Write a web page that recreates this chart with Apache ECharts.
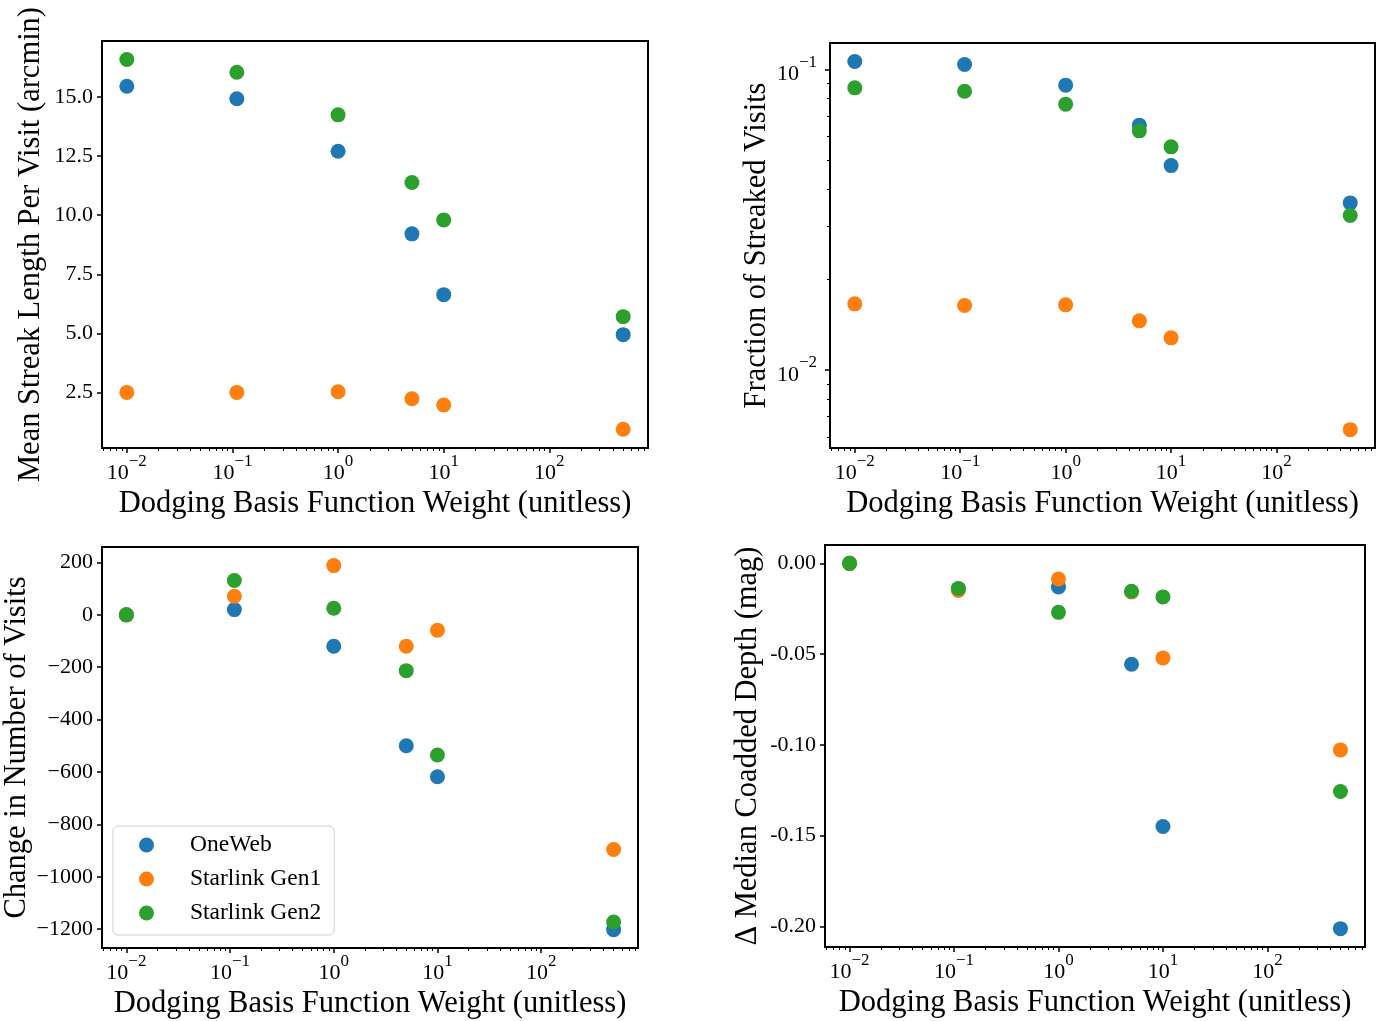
<!DOCTYPE html>
<html><head><meta charset="utf-8">
<script src="https://cdn.jsdelivr.net/npm/echarts@6/dist/echarts.min.js"></script>
<style>html,body{margin:0;padding:0;background:#fff}#c{width:1381px;height:1021px}</style>
</head><body><div id="c"></div>
<script>
// ---- data ----
const weights = [0.01, 0.11, 1, 5, 10, 500];
const constellations = ['OneWeb', 'Starlink Gen1', 'Starlink Gen2'];

const streakOneWeb = [15.45, 14.92, 12.70, 9.21, 6.64, 4.95];
const streakGen1   = [2.51, 2.51, 2.54, 2.24, 1.98, 0.95];
const streakGen2   = [16.58, 16.04, 14.24, 11.38, 9.80, 5.71];

const fracOneWeb = [0.1063, 0.1039, 0.0887, 0.0653, 0.0479, 0.0360];
const fracGen1   = [0.01662, 0.01641, 0.01649, 0.01459, 0.01281, 0.00634];
const fracGen2   = [0.0869, 0.0847, 0.0767, 0.0625, 0.0553, 0.0327];

const visitsOneWeb = [0, 20, -120, -500, -618, -1202];
const visitsGen1   = [0, 71, 188, -120, -59, -896];
const visitsGen2   = [0, 131, 25, -213, -535, -1173];

const depthOneWeb = [0, -0.0141, -0.0130, -0.0556, -0.1450, -0.2013];
const depthGen1   = [0, -0.0150, -0.0086, -0.0158, -0.0521, -0.1028];
const depthGen2   = [0, -0.0139, -0.0270, -0.0154, -0.0185, -0.1257];

const xMajorTicks = [0.01, 0.1, 1, 10, 100];
const streakTicks = [2.5, 5, 7.5, 10, 12.5, 15];
const fracMajorTicks = [0.01, 0.1];
const visitsTicks = [-1200, -1000, -800, -600, -400, -200, 0, 200];
const depthTicks = [-0.2, -0.15, -0.1, -0.05, 0];

const xTitle = 'Dodging Basis Function Weight (unitless)';
const yTitles = ['Mean Streak Length Per Visit (arcmin)', 'Fraction of Streaked Visits',
                 'Change in Number of Visits', '\u0394 Median Coadded Depth (mag)'];

// ---- styling ----
const FONT = '"Liberation Serif", "Times New Roman", serif';
const colors = ['#1f77b4', '#ff7f0e', '#2ca02c'];
const X_MIN = 0.00582, X_MAX = 859;
const TITLE_SIZE = 30.5, TICK_SIZE = 22;

function minorLog(lo, hi) {
  const out = [];
  for (let e = -4; e <= 3; e++) {
    for (let m = 2; m <= 9; m++) {
      const v = Number((m * Math.pow(10, e)).toPrecision(3));
      if (v >= lo && v <= hi) out.push(v);
    }
  }
  return out;
}
const xMinorTicks = minorLog(X_MIN, X_MAX);

function powLabel(v) {
  const e = Math.round(Math.log10(v));
  return '{b|10}{s|' + (e < 0 ? '\u2212' + (-e) : String(e)) + '}';
}
const powRich = {
  b: {fontFamily: FONT, fontSize: TICK_SIZE, color: '#000', lineHeight: 31.5, verticalAlign: 'bottom'},
  s: {fontFamily: FONT, fontSize: 17, color: '#000', lineHeight: 17, verticalAlign: 'top'}
};

const grids = [
  {left: 102, top: 41, width: 546, height: 407},
  {left: 830, top: 43, width: 545, height: 405},
  {left: 102, top: 547, width: 536, height: 401},
  {left: 825, top: 545, width: 540, height: 402}
];
const yRanges = [[0.16, 17.36], [0.00551, 0.1225], [-1272, 259], [-0.2114, 0.0101]];
const yNameGaps = [56, 58, 66, 62];
const panels = [
  [streakOneWeb, streakGen1, streakGen2],
  [fracOneWeb, fracGen1, fracGen2],
  [visitsOneWeb, visitsGen1, visitsGen2],
  [depthOneWeb, depthGen1, depthGen2]
];

const majorTick = {show: true, length: 5, lineStyle: {color: '#000', width: 1.5}};
const minorTickStyle = {show: true, length: 3, lineStyle: {color: '#000', width: 1}};

const xAxis = [], yAxis = [], series = [];
grids.forEach((g, i) => {
  xAxis.push({
    gridIndex: i, type: 'log', min: X_MIN, max: X_MAX, position: 'bottom',
    name: xTitle, nameLocation: 'middle', nameGap: 40,
    nameTextStyle: {fontFamily: FONT, fontSize: TITLE_SIZE, color: '#000'},
    axisLine: {show: false, onZero: false},
    axisTick: Object.assign({customValues: xMajorTicks}, majorTick),
    axisLabel: {customValues: xMajorTicks, formatter: powLabel, rich: powRich, margin: 5, color: '#000'},
    splitLine: {show: false}
  });
  xAxis.push({
    gridIndex: i, type: 'log', min: X_MIN, max: X_MAX, position: 'bottom',
    axisLine: {show: false, onZero: false},
    axisTick: Object.assign({customValues: xMinorTicks}, minorTickStyle),
    axisLabel: {show: false}, splitLine: {show: false}
  });
  const yr = yRanges[i];
  const yBase = {
    gridIndex: i, min: yr[0], max: yr[1], position: 'left',
    name: yTitles[i], nameLocation: 'middle', nameGap: yNameGaps[i], nameRotate: 90,
    nameTextStyle: {fontFamily: FONT, fontSize: TITLE_SIZE, color: '#000'},
    axisLine: {show: false, onZero: false}, splitLine: {show: false}
  };
  if (i === 1) {
    yAxis.push(Object.assign({}, yBase, {
      type: 'log',
      axisTick: Object.assign({customValues: fracMajorTicks}, majorTick),
      axisLabel: {customValues: fracMajorTicks, formatter: powLabel, rich: powRich, margin: 13, color: '#000'}
    }));
    yAxis.push({
      gridIndex: i, type: 'log', min: yr[0], max: yr[1], position: 'left',
      axisLine: {show: false, onZero: false},
      axisTick: Object.assign({customValues: minorLog(yr[0], yr[1])}, minorTickStyle),
      axisLabel: {show: false}, splitLine: {show: false}
    });
  } else {
    const ticks = i === 0 ? streakTicks : (i === 2 ? visitsTicks : depthTicks);
    let fmt;
    if (i === 0) fmt = v => v.toFixed(1);
    else if (i === 2) fmt = v => (v < 0 ? '\u2212' + (-v) : String(v));
    else fmt = v => (v === 0 ? '0.00' : v.toFixed(2));
    yAxis.push(Object.assign({}, yBase, {
      type: 'value',
      axisTick: Object.assign({customValues: ticks}, majorTick),
      axisLabel: {customValues: ticks, formatter: fmt, margin: 9, color: '#000', fontFamily: FONT, fontSize: TICK_SIZE}
    }));
  }
});

const xIdx = [0, 2, 4, 6];
const yIdx = [0, 1, 3, 4];
panels.forEach((sets, i) => {
  sets.forEach((vals, k) => {
    series.push({
      type: 'scatter', name: constellations[k],
      xAxisIndex: xIdx[i], yAxisIndex: yIdx[i],
      symbol: 'circle', symbolSize: 15,
      itemStyle: {color: colors[k], opacity: 1},
      emphasis: {disabled: true},
      data: weights.map((w, j) => [w, vals[j]])
    });
  });
});

const option = {
  backgroundColor: '#fff',
  animation: false,
  grid: grids.map(g => Object.assign({show: true, borderColor: '#000', borderWidth: 2, backgroundColor: 'transparent'}, g)),
  xAxis, yAxis, series,
  legend: {
    orient: 'vertical', left: 113, top: 826, data: constellations,
    icon: 'circle', itemWidth: 15, itemHeight: 15, itemGap: 10,
    padding: [7, 13, 10, 26],
    backgroundColor: 'rgba(255,255,255,0.8)', borderColor: '#d0d0d0', borderWidth: 1, borderRadius: 5,
    textStyle: {fontFamily: FONT, fontSize: 23.5, color: '#000', padding: [0, 0, 0, 31]}
  }
};
const chart = echarts.init(document.getElementById('c'), null, {renderer: 'canvas'});
chart.setOption(option);
</script>
</body></html>
